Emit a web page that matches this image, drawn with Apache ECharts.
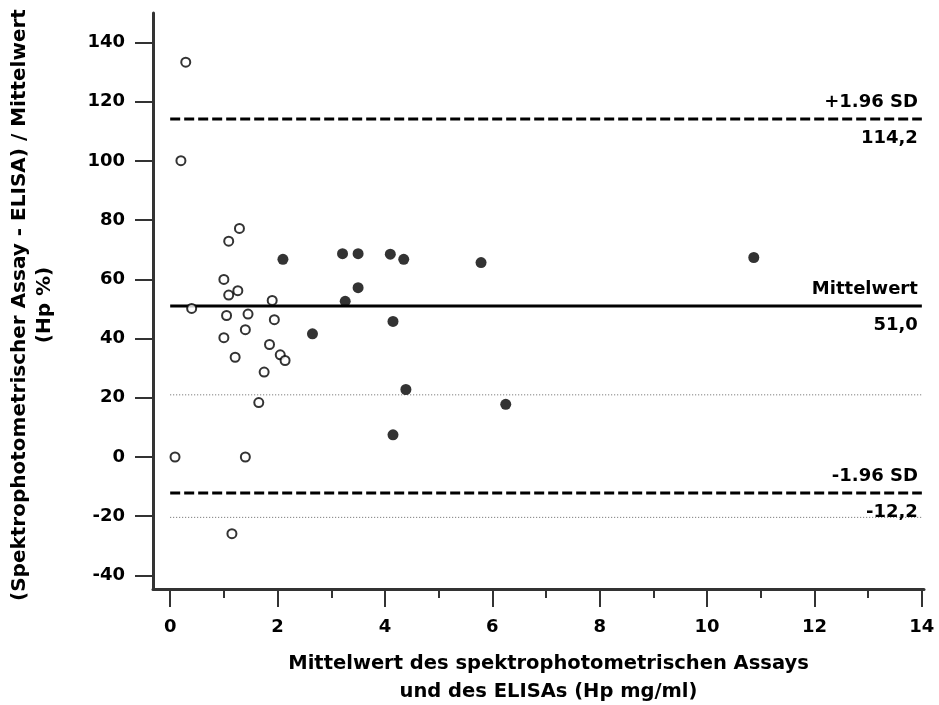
<!DOCTYPE html>
<html>
<head>
<meta charset="utf-8">
<script src="https://cdn.jsdelivr.net/npm/echarts@6/dist/echarts.min.js"></script>
<style>
  html, body { margin: 0; padding: 0; background: #fff; }
  #chart { width: 939px; height: 705px; }
</style>
</head>
<body>
<div id="chart"></div>
<script>
// Bland-Altman plot: spectrophotometric assay vs. ELISA (haptoglobin)
const openX = [0.29, 0.20, 1.29, 1.09, 1.00, 1.09, 1.26, 1.90, 0.40, 1.05, 1.45, 1.94, 1.40, 1.00, 1.85, 1.21, 2.05, 2.14, 1.75, 1.65, 0.09, 1.40, 1.15];
const openY = [133.4, 100.1, 77.2, 72.9, 60.0, 54.7, 56.2, 52.9, 50.2, 47.8, 48.3, 46.4, 43.0, 40.3, 38.0, 33.7, 34.5, 32.6, 28.7, 18.4, 0.0, 0.0, -25.9];

const filledX = [2.10, 3.21, 3.50, 4.10, 4.35, 5.79, 3.50, 3.26, 4.15, 2.65, 4.39, 6.25, 4.15, 10.87];
const filledY = [66.8, 68.7, 68.7, 68.5, 66.8, 65.7, 57.2, 52.6, 45.8, 41.6, 22.8, 17.8, 7.5, 67.4];

// reference lines: mean difference and limits of agreement
const limitNames = ['+1.96 SD', 'Mittelwert', '-1.96 SD'];
const limitValues = [114.2, 51.0, -12.2];
const limitTexts = ['114,2', '51,0', '-12,2'];
const dottedValues = [21.0, -20.4];
const lineRange = [0, 14];

const xTicks = [0, 2, 4, 6, 8, 10, 12, 14];
const xMinorTicks = [1, 3, 5, 7, 9, 11, 13];
const yTicks = [-40, -20, 0, 20, 40, 60, 80, 100, 120, 140];

const FONT = 'DejaVu Sans';
const axisColor = '#333';

const pairs = (xs, ys) => xs.map((x, i) => [x, ys[i]]);

const limitStyles = [
  { type: [10, 4], width: 3 },
  { type: 'solid', width: 3 },
  { type: [10, 4], width: 3 }
];

const series = [];

dottedValues.forEach(v => {
  series.push({
    type: 'line', xAxisIndex: 0, yAxisIndex: 0, symbol: 'none', silent: true,
    data: lineRange.map(x => [x, v]),
    lineStyle: { color: '#666', width: 1, type: [1, 2] },
    z: 1
  });
});

// each limit line carries its name above and its value below the right end
limitValues.forEach((v, i) => {
  series.push({
    type: 'line', xAxisIndex: 0, yAxisIndex: 0, symbol: 'none', silent: true,
    data: lineRange.map(x => [x, v]),
    lineStyle: Object.assign({ color: '#000' }, limitStyles[i]),
    endLabel: {
      show: true,
      formatter: limitNames[i] + '\n\n' + limitTexts[i],
      align: 'right',
      verticalAlign: 'middle',
      distance: 0,
      offset: [-4, 1],
      lineHeight: 18,
      fontFamily: FONT,
      fontWeight: 'bold',
      fontSize: 18,
      color: '#000'
    },
    z: 2
  });
});

series.push({
  type: 'scatter', xAxisIndex: 0, yAxisIndex: 0,
  symbol: 'circle', symbolSize: 9,
  itemStyle: { color: '#fff', borderColor: '#000', borderWidth: 2 },
  data: pairs(openX, openY),
  z: 5
});

series.push({
  type: 'scatter', xAxisIndex: 0, yAxisIndex: 0,
  symbol: 'circle', symbolSize: 11,
  itemStyle: { color: '#000' },
  data: pairs(filledX, filledY),
  z: 5
});

const chart = echarts.init(document.getElementById('chart'), null, { renderer: 'canvas' });

chart.setOption({
  animation: false,
  backgroundColor: '#fff',
  grid: { left: 153, right: 15, top: 13, bottom: 116, outerBoundsMode: 'none', containLabel: false },
  xAxis: [
    {
      type: 'value', position: 'bottom',
      min: -0.32, max: 14.04,
      name: 'Mittelwert des spektrophotometrischen Assays\nund des ELISAs (Hp mg/ml)',
      nameLocation: 'middle',
      nameGap: 61,
      nameTextStyle: {
        fontFamily: FONT, fontWeight: 'bold', fontSize: 19.5, color: '#000',
        lineHeight: 28, padding: [0, 0, 0, 20]
      },
      axisLine: { show: true, onZero: false, lineStyle: { color: axisColor, width: 3 } },
      axisTick: { show: true, customValues: xTicks, length: 18, lineStyle: { color: axisColor, width: 2 } },
      axisLabel: {
        show: true, customValues: xTicks, margin: 29,
        fontFamily: FONT, fontWeight: 'bold', fontSize: 18, color: '#000'
      },
      splitLine: { show: false }
    },
    {
      type: 'value', position: 'bottom', offset: 0,
      min: -0.32, max: 14.04,
      axisLine: { show: false, onZero: false },
      axisTick: { show: true, customValues: xMinorTicks, length: 9, lineStyle: { color: axisColor, width: 2 } },
      axisLabel: { show: false },
      splitLine: { show: false }
    }
  ],
  yAxis: {
    type: 'value',
    min: -44.6, max: 150,
    name: '(Spektrophotometrischer Assay - ELISA) / Mittelwert\n(Hp %)',
    nameLocation: 'middle',
    nameGap: 96,
    nameRotate: 90,
    nameTextStyle: {
      fontFamily: FONT, fontWeight: 'bold', fontSize: 20, color: '#000', lineHeight: 25,
      padding: [0, 8, 0, 0]
    },
    axisLine: { show: true, onZero: false, lineStyle: { color: axisColor, width: 3 } },
    axisTick: { show: true, customValues: yTicks, length: 18, lineStyle: { color: axisColor, width: 2 } },
    axisLabel: {
      show: true, customValues: yTicks, margin: 28,
      fontFamily: FONT, fontWeight: 'bold', fontSize: 18, color: '#000'
    },
    splitLine: { show: false }
  },
  series: series
});
</script>
</body>
</html>
